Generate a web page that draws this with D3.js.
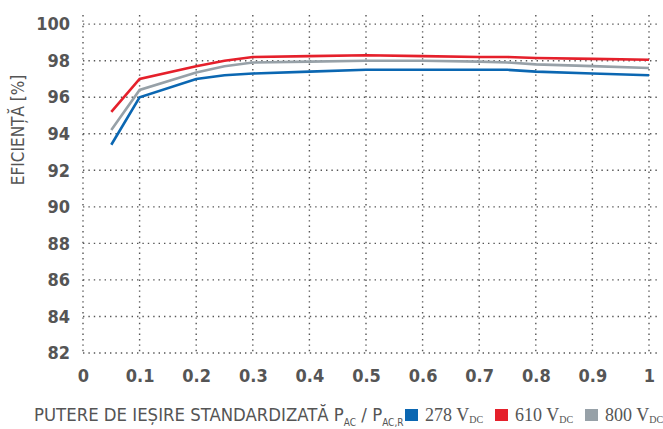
<!DOCTYPE html>
<html>
<head>
<meta charset="utf-8">
<script src="https://cdn.jsdelivr.net/npm/d3@7"></script>
<style>
  body { margin: 0; background: #fff; }
  text { font-family: "Liberation Sans Narrow", "DejaVu Sans Condensed", "Roboto", sans-serif; fill: #555; }
</style>
</head>
<body>
<div id="chart"></div>
<script>
var svgWidth = 663;
var svgHeight = 429;

var margin = { top: 15, right: 14, bottom: 76, left: 83 };
var width = 649 - margin.left;
var height = 353 - margin.top;

// data
var loads = [0.05, 0.1, 0.2, 0.25, 0.3, 0.4, 0.5, 0.6, 0.7, 0.75, 0.8, 0.9, 1];
var eff278 = [93.4, 96.0, 97.0, 97.2, 97.3, 97.4, 97.5, 97.5, 97.5, 97.5, 97.4, 97.3, 97.2];
var eff610 = [95.2, 97.0, 97.7, 98.0, 98.2, 98.25, 98.3, 98.25, 98.2, 98.2, 98.15, 98.1, 98.05];
var eff800 = [94.2, 96.4, 97.35, 97.7, 97.9, 97.95, 98.0, 98.0, 97.95, 97.9, 97.8, 97.7, 97.6];
var xTicks = [0, 0.1, 0.2, 0.3, 0.4, 0.5, 0.6, 0.7, 0.8, 0.9, 1];
var yTicks = [82, 84, 86, 88, 90, 92, 94, 96, 98, 100];

var series = [
  { name: "278", values: eff278, color: "#0b67b2" },
  { name: "800", values: eff800, color: "#97a1a8" },
  { name: "610", values: eff610, color: "#e5202b" }
];

var svg = d3.select("#chart")
  .append("svg")
  .attr("width", svgWidth)
  .attr("height", svgHeight);

var chartGroup = svg.append("g")
  .attr("transform", `translate(${margin.left}, ${margin.top})`);

var xScale = d3.scaleLinear().domain([0, 1]).range([0, width]);
var yScale = d3.scaleLinear().domain([82, 100.5]).range([height, 0]);

// dotted grid
chartGroup.append("g")
  .selectAll("line")
  .data(yTicks)
  .enter()
  .append("line")
  .attr("x1", 0)
  .attr("x2", width + 10)
  .attr("y1", d => yScale(d))
  .attr("y2", d => yScale(d))
  .attr("stroke", "#555")
  .attr("stroke-width", 1.4)
  .attr("stroke-dasharray", "1.4,4");

chartGroup.append("g")
  .selectAll("line")
  .data(xTicks)
  .enter()
  .append("line")
  .attr("x1", d => xScale(d))
  .attr("x2", d => xScale(d))
  .attr("y1", 0)
  .attr("y2", height)
  .attr("stroke", "#555")
  .attr("stroke-width", 1.4)
  .attr("stroke-dasharray", "1.4,4");

// axes (labels only)
var bottomAxis = d3.axisBottom(xScale).tickValues(xTicks).tickSize(0).tickPadding(16)
  .tickFormat(d => d === 0 || d === 1 ? d : d3.format(".1f")(d));
var leftAxis = d3.axisLeft(yScale).tickValues(yTicks).tickSize(0).tickPadding(13);

var xAxisG = chartGroup.append("g")
  .attr("transform", `translate(0, ${height})`)
  .call(bottomAxis);
var yAxisG = chartGroup.append("g").call(leftAxis);

[xAxisG, yAxisG].forEach(function(g) {
  g.select(".domain").remove();
  g.selectAll("text")
    .attr("fill", "#555")
    .style("font-size", "18px")
    .style("font-weight", "bold");
});

// lines
var line = d3.line()
  .x((d, i) => xScale(loads[i]))
  .y(d => yScale(d));

chartGroup.selectAll(".curve")
  .data(series)
  .enter()
  .append("path")
  .attr("class", "curve")
  .attr("d", d => line(d.values))
  .attr("fill", "none")
  .attr("stroke", d => d.color)
  .attr("stroke-width", 2.6);

// y axis label
svg.append("text")
  .attr("transform", "translate(24, 130) rotate(-90)")
  .attr("text-anchor", "middle")
  .style("font-size", "17px")
  .text("EFICIENȚĂ [%]");

// x axis label
var xl = svg.append("text")
  .attr("x", 34)
  .attr("y", 421)
  .style("font-size", "18.4px");
xl.append("tspan").text("PUTERE DE IEȘIRE STANDARDIZATĂ P");
xl.append("tspan").attr("dy", 5).style("font-size", "10px").text("AC");
xl.append("tspan").attr("dy", -5).text(" / P");
xl.append("tspan").attr("dy", 5).style("font-size", "10px").text("AC,R");

// legend
var legendItems = [
  { label: "278", color: "#0b67b2", x: 405 },
  { label: "610", color: "#e5202b", x: 495 },
  { label: "800", color: "#97a1a8", x: 585 }
];

var legend = svg.selectAll(".legend")
  .data(legendItems)
  .enter()
  .append("g")
  .attr("class", "legend")
  .attr("transform", d => `translate(${d.x}, 409)`);

legend.append("rect")
  .attr("width", 13)
  .attr("height", 12)
  .attr("fill", d => d.color);

var lt = legend.append("text")
  .attr("x", 20)
  .attr("y", 12)
  .style("font-family", "'Liberation Serif', 'DejaVu Serif', serif")
  .style("font-size", "18px");
lt.append("tspan").text(d => d.label + " V");
lt.append("tspan").attr("dy", 2).style("font-size", "10px").text("DC");
</script>
</body>
</html>
